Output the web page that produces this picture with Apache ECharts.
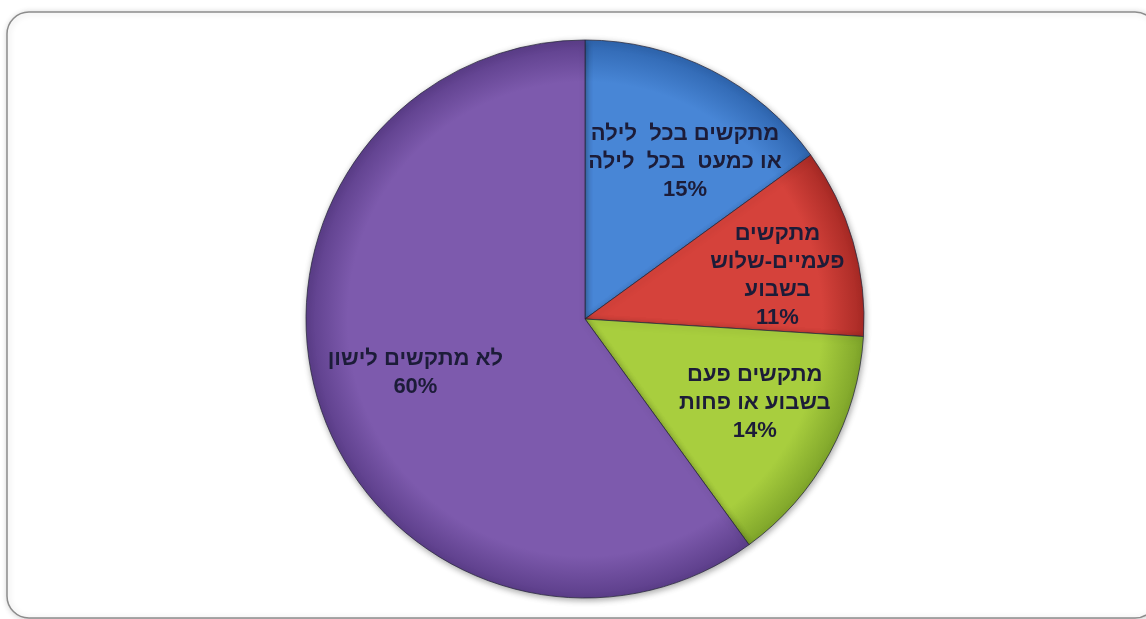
<!DOCTYPE html>
<html lang="he">
<head>
<meta charset="utf-8">
<title>קשיי שינה</title>
<script src="https://cdn.jsdelivr.net/npm/echarts@6/dist/echarts.min.js"></script>
<style>
  html, body { margin: 0; padding: 0; background: #ffffff; }
  #chart { width: 1146px; height: 619px; }
</style>
</head>
<body>
<div id="chart"></div>
<script>
// Sleep-difficulty frequency shares (percent)
const categories = [
  'מתקשים בכל  לילה\nאו כמעט  בכל  לילה',
  'מתקשים\nפעמיים-שלוש\nבשבוע',
  'מתקשים פעם\nבשבוע או פחות',
  'לא מתקשים לישון'
];
const values = [15, 11, 14, 60];
const baseColors = ['#4886D6', '#D5423B', '#A8CE3E', '#7D5AAD'];
const edgeColors = ['#2F66B0', '#A82A25', '#7FA52A', '#5C3E8A'];

const chart = echarts.init(document.getElementById('chart'), null, { renderer: 'canvas' });

const CX = 585, CY = 319, R = 279;

// caption nudges from the default mid-angle anchor, per slice
const labelNudge = [[10, 20], [2, 12], [-4, -12], [19, -7]];

function shade(i) {
  return {
    type: 'radial', x: CX, y: CY, r: R, global: true,
    colorStops: [
      { offset: 0, color: baseColors[i] },
      { offset: 0.85, color: baseColors[i] },
      { offset: 1, color: edgeColors[i] }
    ]
  };
}

const sliceData = categories.map((name, i) => ({
  name, value: values[i],
  itemStyle: { color: shade(i) }
}));

const labelData = categories.map((name, i) => ({ name, value: values[i] }));

chart.setOption({
  backgroundColor: '#ffffff',
  animation: false,
  graphic: [{
    type: 'rect',
    z: -10,
    shape: { x: 7, y: 12, width: 1150, height: 606, r: 22 },
    style: {
      fill: '#ffffff',
      stroke: '#8c8c8c',
      lineWidth: 1.5,
      shadowBlur: 6,
      shadowColor: 'rgba(0,0,0,0.18)',
      shadowOffsetX: 1,
      shadowOffsetY: 1
    }
  }],
  series: [
    {
      type: 'pie',
      center: [CX, CY],
      radius: [0, R],
      startAngle: 90,
      clockwise: true,
      silent: true,
      label: { show: false },
      labelLine: { show: false },
      itemStyle: {
        borderColor: 'rgba(40,40,60,0.75)',
        borderWidth: 1,
        shadowBlur: 6,
        shadowColor: 'rgba(0,0,0,0.35)',
        shadowOffsetX: 1,
        shadowOffsetY: 2
      },
      data: sliceData
    },
    {
      // transparent overlay used only to place the slice captions further out
      type: 'pie',
      center: [CX, CY],
      radius: [0, R * 1.4],
      startAngle: 90,
      clockwise: true,
      silent: true,
      itemStyle: { color: 'rgba(0,0,0,0)', borderWidth: 0 },
      labelLine: { show: false },
      label: {
        show: true,
        position: 'inside',
        formatter: p => p.name + '\n' + p.percent + '%',
        fontFamily: '"Liberation Sans", Arial, sans-serif',
        fontWeight: 'bold',
        fontSize: 22,
        lineHeight: 28,
        color: '#1c1c38',
        align: 'center'
      },
      labelLayout: p => ({ dx: labelNudge[p.dataIndex][0], dy: labelNudge[p.dataIndex][1] }),
      data: labelData
    }
  ]
});
</script>
</body>
</html>
